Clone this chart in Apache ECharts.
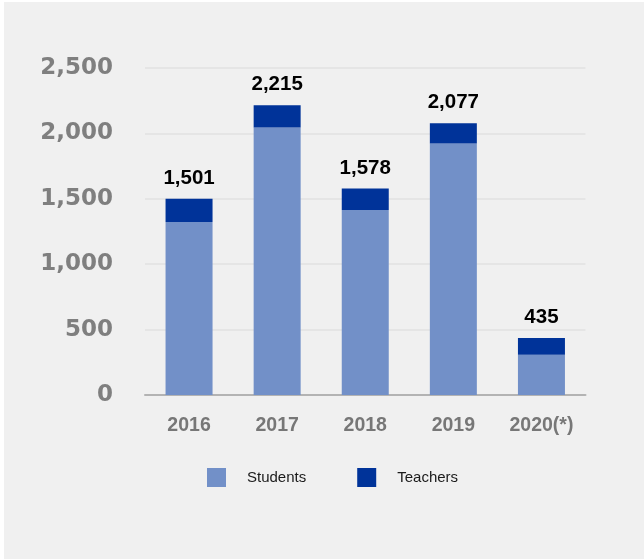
<!DOCTYPE html>
<html>
<head>
<meta charset="utf-8">
<script src="https://cdn.jsdelivr.net/npm/echarts@6/dist/echarts.min.js"></script>
<style>
  html, body { margin: 0; padding: 0; background: #ffffff; }
  #chart { position: absolute; left: 4px; top: 2px; width: 640px; height: 557px; background: #f0f0f0; }
</style>
</head>
<body>
<div id="chart"></div>
<script>
// Participants per year
const years = ['2016', '2017', '2018', '2019', '2020(*)'];
const students = [1323, 2046, 1415, 1923, 308];
const teachers = [178, 169, 163, 154, 127];
const yTicks = [0, 500, 1000, 1500, 2000, 2500];

const sans = '"Liberation Sans", Arial, sans-serif';

const chart = echarts.init(document.getElementById('chart'), null, { renderer: 'canvas' });

chart.setOption({
  backgroundColor: '#f0f0f0',
  animation: false,
  grid: { left: 141, right: 58.5, top: 66, bottom: 164 },
  legend: {
    data: ['Students', 'Teachers'],
    left: 203,
    top: 466,
    padding: 0,
    itemWidth: 19,
    itemHeight: 19,
    itemGap: 51,
    icon: 'rect',
    formatter: '{t|{name}}',
    textStyle: {
      rich: {
        t: { fontFamily: sans, fontSize: 15, color: '#1a1a1a', padding: [0, 0, 0, 16] }
      }
    }
  },
  xAxis: {
    type: 'category',
    data: years,
    axisTick: { show: false },
    axisLine: { lineStyle: { color: '#b3b3b3', width: 2 } },
    axisLabel: { interval: 0, fontFamily: sans, fontWeight: 'bold', fontSize: 19.5, color: '#777777', margin: 21 }
  },
  yAxis: {
    type: 'value',
    min: yTicks[0],
    max: yTicks[yTicks.length - 1],
    interval: yTicks[1] - yTicks[0],
    axisLine: { show: false },
    axisTick: { show: false },
    splitLine: { lineStyle: { color: '#e2e2e2', width: 1.5 } },
    axisLabel: {
      fontFamily: '"DejaVu Sans", Verdana, sans-serif',
      fontWeight: 'bold',
      fontSize: 23,
      color: '#7f7f7f',
      margin: 32,
      formatter: v => v.toLocaleString('en-US')
    }
  },
  series: [
    {
      name: 'Students',
      type: 'bar',
      stack: 'total',
      barWidth: 47,
      itemStyle: { color: '#7290c8' },
      data: students
    },
    {
      name: 'Teachers',
      type: 'bar',
      stack: 'total',
      barWidth: 47,
      itemStyle: { color: '#003399' },
      data: teachers,
      label: {
        show: true,
        position: 'top',
        distance: 10,
        fontFamily: sans,
        fontWeight: 'bold',
        fontSize: 20.5,
        color: '#000000',
        formatter: p => (students[p.dataIndex] + teachers[p.dataIndex]).toLocaleString('en-US')
      }
    }
  ]
});
</script>
</body>
</html>
